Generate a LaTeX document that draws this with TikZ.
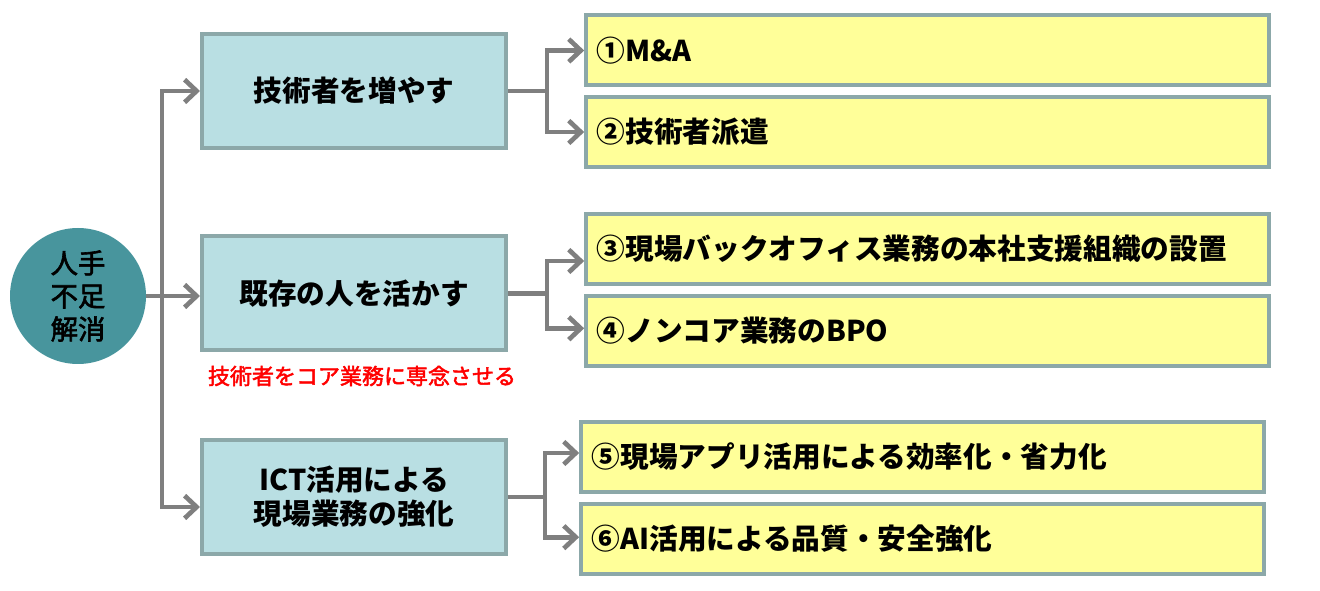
\documentclass[tikz,border=0pt]{standalone}
\usepackage{fontspec}
\setmainfont{Noto Sans CJK JP}
\newfontfamily\medfont[FakeBold=2.2]{Noto Sans CJK JP}
\usetikzlibrary{arrows.meta,positioning,calc}
\definecolor{rootteal}{HTML}{48959D}
\definecolor{boxblue}{HTML}{B9DFE3}
\definecolor{boxedge}{HTML}{8CA8A9}
\definecolor{boxyellow}{HTML}{FFFF99}
\definecolor{conngray}{HTML}{7F7F7F}
\tikzset{
    >={Straight Barb[length=9pt,width=17pt]},
    root/.style={circle,fill=rootteal,minimum size=102pt,inner sep=0pt,
        align=center,font=\fontsize{20.5}{24.75}\selectfont\medfont},
    mainbox/.style={draw=boxedge,line width=3pt,fill=boxblue,
        minimum width=228pt,minimum height=85.5pt,align=center,
        font=\fontsize{21.5}{25.5}\selectfont\bfseries},
    subbox/.style={draw=boxedge,line width=3pt,fill=boxyellow,
        text width=496pt,inner xsep=8pt,minimum height=52.5pt,align=left,
        font=\fontsize{21.5}{25}\selectfont\bfseries},
    conn/.style={draw=conngray,line width=3.5pt},
}
\begin{document}
\begin{tikzpicture}[x=0.75pt,y=-0.75pt]
    \useasboundingbox (0,0) rectangle (1320,591);

    \node[root] (root) at (78,296) {人手\\不足\\解消};

    \node[mainbox] (b1) at (354,91) {技術者を増やす};
    \node[mainbox] (b2) at (354,293.5) {既存の人を活かす};
    \node[mainbox] (b3) at (354,497) {ICT活用による\\現場業務の強化};
    \node[text=red,font=\fontsize{16.5}{20}\selectfont\medfont] (note) at (362,376)
        {技術者をコア業務に専念させる};

    \node[subbox] (y1) at (927.5,50.5) {①M\&A};
    \node[subbox] (y2) at (927.5,132) {②技術者派遣};
    \node[subbox] (y3) at (927.5,249) {③現場バックオフィス業務の本社支援組織の設置};
    \node[subbox] (y4) at (927.5,331) {④ノンコア業務のBPO};
    \node[subbox] (y5) at (922.5,457) {⑤現場アプリ活用による効率化・省力化};
    \node[subbox] (y6) at (922.5,538.5) {⑥AI活用による品質・安全強化};

    % trunk
    \coordinate (t) at (162,296);
    \draw[conn,->] (root.east) -- (root.east -| b2.west);
    \draw[conn,->] (t) |- (b1.west);
    \draw[conn,->] (t) |- ([yshift=-7.5pt]b3.west);

    % branches
    \draw[conn,->] (b1.east) -- ++(39,0) coordinate (s1) |- (y1.west);
    \draw[conn,->] (s1) |- (y2.west);
    \draw[conn,->] (b2.east) -- ++(39,0) coordinate (s2) |- ([yshift=-9pt]y3.west);
    \draw[conn,->] (s2) |- ([yshift=2pt]y4.west);
    \draw[conn,->] (b3.east) -- ++(37,0) coordinate (s3) |- ([yshift=3pt]y5.west);
    \draw[conn,->] (s3) |- ([yshift=1pt]y6.west);
\end{tikzpicture}
\end{document}
